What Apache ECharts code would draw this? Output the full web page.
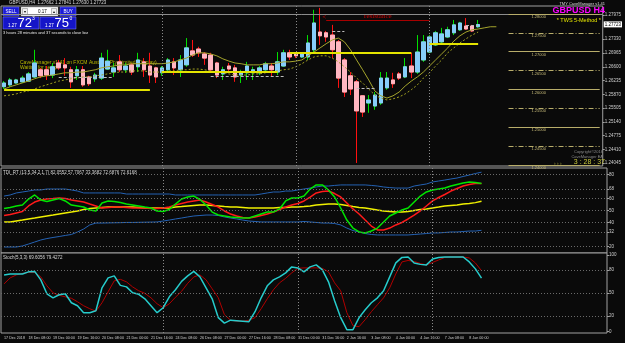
<!DOCTYPE html>
<html>
<head>
<meta charset="utf-8">
<script src="https://cdn.jsdelivr.net/npm/echarts@6/dist/echarts.min.js"></script>
<style>
  html, body { margin: 0; padding: 0; background: #0a0a0a; }
  #chart { width: 625px; height: 343px; }
</style>
</head>
<body>
<div id="chart"></div>
<script>
// time labels, one every 4 H4 bars
const tickLabels = ['17 Dec 2018', '18 Dec 08:00', '19 Dec 00:00', '19 Dec 16:00', '20 Dec 08:00',
  '21 Dec 00:00', '21 Dec 16:00', '24 Dec 08:00', '26 Dec 08:00', '27 Dec 00:00', '27 Dec 16:00',
  '28 Dec 08:00', '31 Dec 00:00', '31 Dec 16:00', '2 Jan 16:00', '3 Jan 08:00', '4 Jan 00:00',
  '4 Jan 16:00', '7 Jan 08:00', '8 Jan 00:00'];

// GBPUSD H4 candles
const open = [1.2607, 1.2612, 1.2617, 1.2620, 1.2622, 1.2633, 1.2652, 1.2652, 1.2638, 1.2670,
  1.2665, 1.2652, 1.2636, 1.2652, 1.2633, 1.2628, 1.2630, 1.2654, 1.2646, 1.2673,
  1.2652, 1.2665, 1.2660, 1.2673, 1.2662, 1.2657, 1.2644, 1.2652, 1.2673, 1.2652,
  1.2665, 1.2702, 1.2707, 1.2694, 1.2691, 1.2670, 1.2641, 1.2662, 1.2657, 1.2638,
  1.2644, 1.2644, 1.2644, 1.2652, 1.2662, 1.2646, 1.2662, 1.2697, 1.2697, 1.2686,
  1.2686, 1.2705, 1.2752, 1.2750, 1.2744, 1.2726, 1.2678, 1.2636, 1.2620, 1.2583,
  1.2564, 1.2556, 1.2564, 1.2604, 1.2625, 1.2641, 1.2633, 1.2662, 1.2646, 1.2678,
  1.2699, 1.2718, 1.2726, 1.2739, 1.2750, 1.2758, 1.2768, 1.2768, 1.2766];
const close = [1.2617, 1.2625, 1.2625, 1.2630, 1.2641, 1.2670, 1.2636, 1.2638, 1.2660, 1.2657,
  1.2657, 1.2620, 1.2652, 1.2612, 1.2615, 1.2638, 1.2683, 1.2675, 1.2657, 1.2652,
  1.2662, 1.2646, 1.2678, 1.2652, 1.2638, 1.2633, 1.2657, 1.2678, 1.2657, 1.2678,
  1.2710, 1.2691, 1.2697, 1.2683, 1.2652, 1.2638, 1.2652, 1.2654, 1.2633, 1.2644,
  1.2662, 1.2652, 1.2657, 1.2668, 1.2652, 1.2673, 1.2697, 1.2686, 1.2689, 1.2694,
  1.2723, 1.2776, 1.2742, 1.2739, 1.2705, 1.2630, 1.2593, 1.2601, 1.2543, 1.2540,
  1.2572, 1.2585, 1.2630, 1.2630, 1.2615, 1.2630, 1.2660, 1.2646, 1.2699, 1.2726,
  1.2739, 1.2750, 1.2747, 1.2758, 1.2771, 1.2776, 1.2760, 1.2755, 1.2772];
const low = [1.2601, 1.2607, 1.2615, 1.2617, 1.2620, 1.2630, 1.2630, 1.2625, 1.2630, 1.2652,
  1.2636, 1.2604, 1.2625, 1.2607, 1.2609, 1.2620, 1.2625, 1.2652, 1.2633, 1.2646,
  1.2644, 1.2638, 1.2646, 1.2633, 1.2617, 1.2617, 1.2636, 1.2646, 1.2638, 1.2633,
  1.2660, 1.2686, 1.2686, 1.2665, 1.2646, 1.2630, 1.2625, 1.2644, 1.2620, 1.2617,
  1.2625, 1.2625, 1.2638, 1.2644, 1.2633, 1.2638, 1.2660, 1.2678, 1.2683, 1.2683,
  1.2678, 1.2699, 1.2718, 1.2726, 1.2683, 1.2604, 1.2580, 1.2585, 1.2405, 1.2527,
  1.2538, 1.2546, 1.2559, 1.2599, 1.2604, 1.2625, 1.2630, 1.2630, 1.2641, 1.2673,
  1.2697, 1.2715, 1.2721, 1.2736, 1.2744, 1.2755, 1.2758, 1.2752, 1.2763];
const high = [1.2622, 1.2630, 1.2628, 1.2636, 1.2646, 1.2705, 1.2657, 1.2662, 1.2670, 1.2678,
  1.2683, 1.2660, 1.2662, 1.2662, 1.2636, 1.2644, 1.2697, 1.2705, 1.2670, 1.2691,
  1.2670, 1.2670, 1.2697, 1.2683, 1.2697, 1.2660, 1.2662, 1.2683, 1.2683, 1.2691,
  1.2736, 1.2731, 1.2713, 1.2699, 1.2697, 1.2673, 1.2660, 1.2670, 1.2665, 1.2652,
  1.2673, 1.2660, 1.2662, 1.2673, 1.2670, 1.2699, 1.2705, 1.2705, 1.2699, 1.2697,
  1.2744, 1.2811, 1.2816, 1.2755, 1.2771, 1.2731, 1.2683, 1.2646, 1.2625, 1.2585,
  1.2585, 1.2593, 1.2646, 1.2646, 1.2644, 1.2646, 1.2683, 1.2697, 1.2744, 1.2744,
  1.2744, 1.2755, 1.2763, 1.2766, 1.2784, 1.2779, 1.2789, 1.2771, 1.2784];

// moving averages drawn on the price chart (fast one is shifted forward)
const fastMA = [1.2601, 1.2607, 1.2612, 1.2617, 1.2622, 1.2628, 1.2633, 1.2636, 1.2638, 1.2641,
  1.2644, 1.2644, 1.2646, 1.2646, 1.2649, 1.2652, 1.2657, 1.2660, 1.2662, 1.2665,
  1.2665, 1.2668, 1.2668, 1.2668, 1.2668, 1.2668, 1.2668, 1.2670, 1.2673, 1.2678,
  1.2683, 1.2691, 1.2697, 1.2697, 1.2694, 1.2689, 1.2681, 1.2675, 1.2670, 1.2668,
  1.2665, 1.2665, 1.2665, 1.2668, 1.2668, 1.2670, 1.2673, 1.2673, 1.2675, 1.2678,
  1.2689, 1.2699, 1.2710, 1.2721, 1.2731, 1.2736, 1.2726, 1.2705, 1.2678, 1.2652,
  1.2625, 1.2596, 1.2583, 1.2577, 1.2583, 1.2593, 1.2609, 1.2622, 1.2633, 1.2646,
  1.2662, 1.2678, 1.2694, 1.2710, 1.2728, 1.2742, 1.2752, 1.2758, 1.2760, 1.2763,
  1.2766, 1.2766];
const slowMA = [1.2583, 1.2585, 1.2588, 1.2593, 1.2596, 1.2601, 1.2607, 1.2612, 1.2617, 1.2622,
  1.2625, 1.2628, 1.2630, 1.2633, 1.2633, 1.2636, 1.2638, 1.2641, 1.2644, 1.2646,
  1.2646, 1.2649, 1.2649, 1.2649, 1.2646, 1.2646, 1.2646, 1.2649, 1.2649, 1.2652,
  1.2652, 1.2654, 1.2654, 1.2652, 1.2649, 1.2646, 1.2644, 1.2641, 1.2638, 1.2638,
  1.2638, 1.2641, 1.2641, 1.2644, 1.2646, 1.2649, 1.2652, 1.2654, 1.2660, 1.2668,
  1.2678, 1.2686, 1.2689, 1.2689, 1.2683, 1.2673, 1.2660, 1.2646, 1.2630, 1.2617,
  1.2601, 1.2585, 1.2577, 1.2572, 1.2575, 1.2580, 1.2588, 1.2599, 1.2612, 1.2630,
  1.2644, 1.2662, 1.2678, 1.2697, 1.2710, 1.2723, 1.2734, 1.2744, 1.2752];

// TDI
const tdiUpper = [62.1, 63.0, 64.7, 65.5, 66.3, 67.2, 67.2, 68.0, 68.0, 68.0,
  68.0, 67.2, 66.3, 64.7, 64.7, 64.7, 64.7, 64.7, 64.7, 64.7,
  63.8, 63.8, 63.8, 63.8, 63.8, 63.8, 63.8, 63.8, 63.0, 63.0,
  63.0, 63.0, 63.0, 63.0, 63.0, 63.0, 63.0, 63.0, 63.0, 63.0,
  63.0, 63.0, 63.8, 64.7, 65.5, 65.5, 66.3, 66.3, 67.2, 68.0,
  68.8, 69.7, 70.5, 70.5, 71.0, 71.4, 71.4, 71.4, 71.4, 71.4,
  71.0, 70.5, 69.7, 69.2, 68.8, 68.8, 68.8, 70.5, 71.4, 72.2,
  73.9, 74.7, 75.5, 76.4, 77.2, 78.5, 79.7, 81.0, 82.1];
const tdiLower = [19.4, 19.4, 19.4, 20.3, 21.9, 23.6, 25.3, 26.5, 27.4, 28.2,
  29.1, 29.9, 32.0, 34.5, 37.9, 39.5, 39.5, 39.6, 39.7, 39.8,
  40.0, 40.0, 40.1, 40.2, 40.3, 40.4, 41.2, 42.0, 42.9, 43.7,
  44.6, 45.4, 45.8, 46.2, 46.2, 45.8, 44.6, 43.7, 42.9, 42.0,
  41.2, 40.8, 40.4, 40.4, 40.4, 40.4, 40.4, 40.4, 40.4, 40.8,
  40.4, 40.0, 39.5, 39.5, 39.1, 37.9, 35.3, 33.2, 32.0, 30.7,
  29.9, 29.5, 29.5, 29.5, 29.5, 29.5, 29.5, 29.9, 30.3, 30.7,
  31.2, 31.2, 31.6, 32.0, 32.0, 32.4, 32.8, 32.8, 33.4];
const tdiMid = [40.4, 40.4, 41.2, 42.0, 42.9, 43.7, 44.6, 45.4, 46.2, 47.1,
  47.9, 48.7, 49.6, 50.8, 51.7, 52.1, 52.5, 52.9, 52.9, 52.9,
  52.9, 52.9, 52.5, 52.1, 52.1, 52.1, 52.1, 52.1, 52.9, 53.3,
  53.8, 54.2, 54.6, 54.6, 54.2, 53.8, 53.3, 52.9, 52.9, 52.5,
  52.1, 52.1, 52.1, 52.1, 52.1, 52.5, 52.5, 52.9, 52.9, 53.3,
  53.8, 54.6, 55.0, 55.4, 55.4, 55.0, 54.2, 53.3, 52.5, 52.1,
  51.3, 50.4, 49.6, 49.2, 48.7, 48.7, 49.2, 50.0, 50.8, 51.3,
  52.1, 52.9, 53.8, 54.2, 54.6, 55.4, 55.9, 56.6, 57.7];
const tdiGreen = [51.7, 52.5, 53.8, 54.6, 59.6, 63.0, 58.8, 57.5, 58.8, 60.0,
  58.0, 54.6, 53.8, 52.9, 50.4, 49.6, 56.3, 58.0, 57.5, 56.7,
  55.4, 54.6, 53.8, 52.9, 52.1, 49.6, 49.2, 50.8, 55.4, 59.6,
  61.3, 62.1, 59.2, 54.6, 48.7, 46.2, 45.4, 44.6, 44.2, 43.7,
  43.7, 45.4, 47.1, 48.7, 48.7, 51.3, 58.0, 60.5, 60.5, 62.1,
  68.0, 71.4, 71.4, 67.2, 61.3, 52.1, 42.0, 35.3, 32.0, 31.2,
  32.8, 35.3, 40.4, 45.4, 47.9, 50.4, 52.1, 57.1, 62.1, 65.5,
  67.2, 68.0, 68.8, 70.5, 71.8, 73.0, 73.9, 73.5, 72.7];
const tdiRed = [45.8, 46.6, 47.9, 49.2, 53.8, 57.1, 58.8, 59.6, 60.0, 60.5,
  60.0, 58.8, 58.0, 57.1, 55.4, 53.8, 52.1, 52.5, 52.9, 52.9,
  52.5, 52.1, 52.1, 52.1, 51.7, 51.7, 52.1, 52.9, 54.6, 55.9,
  57.1, 58.0, 58.8, 57.1, 55.0, 52.9, 49.6, 47.1, 45.4, 44.2,
  43.7, 44.6, 45.8, 47.1, 48.7, 50.8, 52.9, 54.6, 55.9, 58.0,
  61.3, 64.7, 65.9, 66.3, 64.2, 61.3, 56.3, 51.3, 47.1, 42.0,
  37.0, 33.7, 33.7, 35.3, 37.9, 40.0, 42.9, 46.2, 49.6, 53.8,
  58.0, 60.9, 63.4, 66.3, 68.4, 70.5, 71.8, 72.6, 72.6];
// stretches where the TDI middle line is drawn in its darker colour
const midFalling = [[31, 39], [56, 65]];

// Stochastic
const stochK = [73.9, 75.2, 75.2, 75.2, 77.9, 78.5, 67.4, 49.2, 43.9, 47.9,
  49.2, 37.4, 33.5, 24.4, 24.4, 27.0, 57.0, 70.0, 72.6, 60.2,
  58.2, 50.5, 48.5, 42.6, 33.5, 24.4, 30.9, 45.2, 54.4, 65.5,
  72.6, 78.5, 71.3, 57.0, 42.6, 17.9, 10.7, 14.6, 14.0, 13.3,
  12.6, 25.7, 43.9, 59.6, 67.4, 71.3, 76.6, 84.4, 83.1, 77.9,
  84.4, 87.0, 80.5, 64.8, 40.0, 17.9, 2.2, 2.2, 17.9, 28.3,
  37.4, 43.9, 53.1, 71.3, 89.6, 96.8, 97.4, 89.6, 87.7, 87.0,
  94.8, 96.8, 97.4, 97.4, 97.4, 97.4, 90.9, 81.8, 69.6];
const stochD = [62.2, 70.0, 73.9, 75.9, 77.2, 77.2, 71.3, 59.6, 50.5, 47.2,
  45.2, 43.3, 38.7, 33.5, 29.6, 26.3, 37.4, 51.8, 66.1, 68.1,
  64.8, 58.2, 53.1, 49.8, 43.9, 36.1, 30.9, 36.1, 44.6, 52.4,
  62.9, 71.3, 73.9, 67.4, 55.7, 43.9, 21.8, 14.6, 13.3, 13.3,
  14.6, 17.9, 29.6, 42.6, 54.4, 63.5, 69.4, 76.6, 82.5, 83.1,
  83.1, 83.1, 82.5, 77.9, 63.5, 53.1, 24.4, 7.4, 6.1, 15.3,
  25.7, 34.8, 43.9, 57.0, 75.2, 90.9, 92.8, 91.5, 88.9, 87.0,
  90.2, 93.5, 96.8, 97.4, 97.4, 97.4, 96.1, 89.6, 79.4];

// axis ticks
const priceTicks = [1.27975, 1.27330, 1.26965, 1.26600, 1.26235, 1.25870, 1.25505, 1.25140, 1.24775, 1.24410, 1.24045];
const tdiTicks = [20, 32, 40, 50, 60, 68, 80];
const stochTicks = [0, 20, 50, 80, 100];

// levels on the price chart
const bid = 1.27723;
const weekOpen = [[0, 24, 1.2599], [26, 45, 1.2646], [47, 67, 1.2697], [70, 78, 1.2721]];
const roundLevels = [1.28, 1.275, 1.27, 1.265, 1.26, 1.255, 1.25, 1.245, 1.24];
const pivots = [[9, 18, 1.2633], [34, 46, 1.2636], [54, 56, 1.2755], [58, 61, 1.2604], [76, 78, 1.2771]];
const resistance = [53, 70, 1.2784];
const weekBreaks = [26, 48, 70];

const chart = echarts.init(document.getElementById('chart'));

const slots = 99;
const categories = [];
for (let i = 0; i < slots; i++) {
  categories.push(i % 4 === 0 && i / 4 < tickLabels.length ? tickLabels[i / 4] : '');
}
const candleData = open.map((o, i) => [o, close[i], low[i], high[i]]);
const bodyData = open.map((o, i) => [o, close[i], Math.min(o, close[i]), Math.max(o, close[i])]);

const font = 'Liberation Sans';
const axisText = { color: '#cfcfcf', fontSize: 4.5, fontFamily: font };
const gridStyle = { left: 1, right: 18, show: true, borderColor: '#a0a0a0', borderWidth: 1, backgroundColor: '#0a0a0a' };
const sepLine = { color: '#8a8a8a', type: [1, 2], width: 1 };

const breakLines = weekBreaks.map((b) => ({ xAxis: b, lineStyle: sepLine, label: { show: false } }));

const priceMarks = [
  { yAxis: bid, lineStyle: { color: '#8c8c8c', type: 'solid', width: 1 }, label: { show: false } },
  ...breakLines,
  ...weekOpen.map(([a, b, p]) => [
    { coord: [a, p], lineStyle: { color: '#e4e400', width: 2, type: 'solid' }, label: { show: false } },
    { coord: [b, p] }
  ]),
  ...roundLevels.map((p, k) => [
    { coord: [83, p], lineStyle: { color: '#b8ad6a', width: 1, type: k % 2 === 0 ? 'solid' : [5, 2, 1, 2] },
      label: { show: true, position: 'insideStartBottom', formatter: p.toFixed(5), color: '#c8bc7a',
        fontSize: 4, fontFamily: font, padding: [0, 0, 0, 22], distance: 1 } },
    { coord: [98, p] }
  ]),
  ...pivots.map(([a, b, p]) => [
    { coord: [a, p], lineStyle: { color: '#bdbdbd', width: 1, type: [3, 2] }, label: { show: false } },
    { coord: [b, p] }
  ]),
  [
    { coord: [resistance[0], resistance[2]], lineStyle: { color: '#a80000', width: 1, type: 'solid' },
      label: { show: true, position: 'insideMiddleTop', formatter: 'resistance', color: '#d00000',
        fontSize: 7, fontFamily: 'Liberation Serif', distance: 0 } },
    { coord: [resistance[1], resistance[2]] }
  ]
];

const levelLines = (vals) => vals.map((v) => ({ yAxis: v, lineStyle: { color: '#6a6a6a', type: [1, 2], width: 1 }, label: { show: false } }));

const lineSeries = (name, data, xi, color, width, type, extra) => Object.assign({
  name, type: 'line', data, xAxisIndex: xi, yAxisIndex: xi, showSymbol: false, symbol: 'none',
  lineStyle: { color, width, type: type || 'solid' }, silent: true
}, extra || {});

const midPieces = [];
let from = 0;
midFalling.forEach(([a, b]) => {
  midPieces.push({ gte: from, lt: a, color: '#f0f000' });
  midPieces.push({ gte: a, lte: b, color: '#8f8f00' });
  from = b + 0.001;
});
midPieces.push({ gte: from, color: '#f0f000' });

const option = {
  backgroundColor: '#0a0a0a',
  animation: false,
  title: [
    { text: 'GBPUSD,H4  1.27662 1.27841 1.27630 1.27723', left: 9, top: 0, padding: 0,
      textStyle: { color: '#d8d8d8', fontSize: 4.5, fontWeight: 'normal', fontFamily: font } },
    { text: 'TDI_RT (13,5,34,2,1,7) 82.0552 57.7067 33.3682 72.6876 72.6168', left: 3, top: 170, padding: 0,
      textStyle: { color: '#d8d8d8', fontSize: 4.5, fontWeight: 'normal', fontFamily: font } },
    { text: 'Stoch(5,3,3) 69.6056 79.4272', left: 3, top: 255, padding: 0,
      textStyle: { color: '#d8d8d8', fontSize: 4.5, fontWeight: 'normal', fontFamily: font } }
  ],
  visualMap: {
    show: false, type: 'piecewise', seriesIndex: 6, dimension: 0, pieces: midPieces
  },
  grid: [
    Object.assign({ top: 6, height: 160 }, gridStyle),
    Object.assign({ top: 168, height: 85 }, gridStyle),
    Object.assign({ top: 253, height: 80 }, gridStyle)
  ],
  xAxis: [0, 1, 2].map((g) => ({
    type: 'category', gridIndex: g, data: categories, boundaryGap: true,
    axisLine: { show: false }, axisTick: { show: false }, splitLine: { show: false },
    axisLabel: g === 2
      ? Object.assign({ interval: 0, align: 'left', margin: 3 }, axisText, { fontSize: 3.7 })
      : { show: false }
  })),
  yAxis: [
    { type: 'value', gridIndex: 0, position: 'right', min: 1.2397, max: 1.2821,
      axisLine: { show: false }, splitLine: { show: false },
      axisTick: { show: true, length: 2, customValues: priceTicks, lineStyle: { color: '#a0a0a0' } },
      axisLabel: Object.assign({ customValues: priceTicks, margin: 2, formatter: (v) => v.toFixed(5) }, axisText) },
    { type: 'value', gridIndex: 1, position: 'right', min: 14.4, max: 85.6,
      axisLine: { show: false }, splitLine: { show: false },
      axisTick: { show: true, length: 2, customValues: tdiTicks, lineStyle: { color: '#a0a0a0' } },
      axisLabel: Object.assign({ customValues: tdiTicks, margin: 2 }, axisText) },
    { type: 'value', gridIndex: 2, position: 'right', min: -2.2, max: 102.6,
      axisLine: { show: false }, splitLine: { show: false },
      axisTick: { show: true, length: 2, customValues: stochTicks, lineStyle: { color: '#a0a0a0' } },
      axisLabel: Object.assign({ customValues: stochTicks, margin: 2 }, axisText) },
    // current bid box on the price scale
    { type: 'value', gridIndex: 0, position: 'right', min: 1.2397, max: 1.2821,
      axisLine: { show: false }, splitLine: { show: false }, axisTick: { show: false },
      axisLabel: Object.assign({}, axisText, { customValues: [bid], margin: 1, color: '#000', backgroundColor: '#ffffff',
        padding: [1, 1, 0, 1], formatter: (v) => v.toFixed(5) }) }
  ],
  series: [
    {
      name: 'wicks', type: 'candlestick', xAxisIndex: 0, yAxisIndex: 0, data: candleData, barWidth: 4, silent: true,
      itemStyle: { color: '#00e000', color0: '#ff1010', borderColor: '#00e000', borderColor0: '#ff1010', borderWidth: 1 },
      markLine: { symbol: 'none', silent: true, animation: false, data: priceMarks },
      markPoint: { symbol: 'circle', symbolSize: 0, silent: true,
        data: [{ coord: [resistance[0], resistance[2]],
          label: { show: true, formatter: '<', color: '#d00000', fontSize: 7, fontFamily: 'Liberation Serif', offset: [-2, -3] } }] }
    },
    {
      name: 'bodies', type: 'candlestick', xAxisIndex: 0, yAxisIndex: 0, data: bodyData, barWidth: 4, silent: true,
      itemStyle: { color: '#87cefa', color0: '#ffb6c1', borderColor: '#87cefa', borderColor0: '#ffb6c1', borderWidth: 1 }
    },
    lineSeries('fastMA', fastMA, 0, '#a5a52c', 1),
    lineSeries('slowMA', slowMA, 0, '#a0a020', 1, [2, 2]),
    lineSeries('tdiUpper', tdiUpper, 1, '#2462b4', 1, 'solid', {
      markLine: { symbol: 'none', silent: true, data: [...levelLines([20, 32, 40, 50, 60, 68, 80]), ...breakLines] }
    }),
    lineSeries('tdiLower', tdiLower, 1, '#2462b4', 1),
    lineSeries('tdiMid', tdiMid, 1, '#f0f000', 1.5),
    lineSeries('tdiRed', tdiRed, 1, '#ff1a1a', 1.5),
    lineSeries('tdiGreen', tdiGreen, 1, '#00e600', 1.5),
    lineSeries('stochD', stochD, 2, '#b00000', 1, 'solid', {
      markLine: { symbol: 'none', silent: true, data: [...levelLines([20, 50, 80]), ...breakLines] }
    }),
    lineSeries('stochK', stochK, 2, '#26cccc', 1.5)
  ],
  graphic: [
    // one-click trading panel
    { type: 'rect', shape: { x: 3, y: 7, width: 16, height: 9 }, style: { fill: '#1b1bd8', stroke: '#8080ff', lineWidth: 0.5 } },
    { type: 'text', x: 5.5, y: 9.5, style: { text: 'SELL', fill: '#fff', font: '4.5px Liberation Sans', verticalAlign: 'top' } },
    { type: 'rect', shape: { x: 21, y: 7, width: 37, height: 9 }, style: { fill: '#ffffff', stroke: '#9a9a9a', lineWidth: 0.5 } },
    { type: 'rect', shape: { x: 22.5, y: 8.5, width: 5, height: 6 }, style: { fill: '#f0f0f0', stroke: '#777', lineWidth: 0.5 } },
    { type: 'rect', shape: { x: 51.5, y: 8.5, width: 5, height: 6 }, style: { fill: '#f0f0f0', stroke: '#777', lineWidth: 0.5 } },
    { type: 'text', x: 24, y: 9.5, style: { text: '\u25be', fill: '#000', font: '4px Liberation Sans', verticalAlign: 'top' } },
    { type: 'text', x: 53, y: 9.5, style: { text: '\u25b4', fill: '#000', font: '4px Liberation Sans', verticalAlign: 'top' } },
    { type: 'text', x: 38, y: 9.5, style: { text: '0.17', fill: '#000', font: '4.5px Liberation Sans', verticalAlign: 'top' } },
    { type: 'rect', shape: { x: 60, y: 7, width: 16, height: 9 }, style: { fill: '#1b1bd8', stroke: '#8080ff', lineWidth: 0.5 } },
    { type: 'text', x: 63.5, y: 9.5, style: { text: 'BUY', fill: '#fff', font: '4.5px Liberation Sans', verticalAlign: 'top' } },
    { type: 'rect', shape: { x: 3, y: 17, width: 36, height: 12 }, style: { fill: '#1515c8', stroke: '#8080ff', lineWidth: 0.5 } },
    { type: 'rect', shape: { x: 40, y: 17, width: 36, height: 12 }, style: { fill: '#1515c8', stroke: '#8080ff', lineWidth: 0.5 } },
    { type: 'text', x: 8, y: 23, style: { text: '1.27', fill: '#fff', font: '4.5px Liberation Sans', verticalAlign: 'top' } },
    { type: 'text', x: 17.5, y: 16.5, style: { text: '72', fill: '#fff', font: '13px Liberation Sans', verticalAlign: 'top' } },
    { type: 'text', x: 32, y: 16.5, style: { text: '3', fill: '#fff', font: '5px Liberation Sans', verticalAlign: 'top' } },
    { type: 'text', x: 45, y: 23, style: { text: '1.27', fill: '#fff', font: '4.5px Liberation Sans', verticalAlign: 'top' } },
    { type: 'text', x: 54.5, y: 16.5, style: { text: '75', fill: '#fff', font: '13px Liberation Sans', verticalAlign: 'top' } },
    { type: 'text', x: 69.5, y: 16.5, style: { text: '0', fill: '#fff', font: '5px Liberation Sans', verticalAlign: 'top' } },
    { type: 'text', x: 3, y: 30.5, style: { text: '3 hours 28 minutes and 37 seconds to close bar', fill: '#e8e8e8', font: '4px Liberation Sans', verticalAlign: 'top' } },
    // expert advisor comment
    { type: 'text', x: 20, y: 60, style: { text: 'CaveManager v1.41 on FXCM Australia Pty. Limited (Display)', fill: '#b8b800', font: '5px Liberation Sans', verticalAlign: 'top' } },
    { type: 'text', x: 20, y: 65.5, style: { text: 'Waiting for setup', fill: '#b8b800', font: '5px Liberation Sans', verticalAlign: 'top' } },
    // top right labels
    { type: 'text', x: 605, y: 2, style: { text: 'TMY CaveManager v1.41', fill: '#dcdcdc', font: '4px Liberation Sans', align: 'right', verticalAlign: 'top' } },
    { type: 'text', x: 605, y: 6.5, style: { text: 'GBPUSD H4', fill: '#ff00ff', font: 'bold 9px Liberation Sans', align: 'right', verticalAlign: 'top' } },
    { type: 'text', x: 601, y: 17, style: { text: '* TWS 5-Method *', fill: '#e8e800', font: '5.5px Liberation Sans', align: 'right', verticalAlign: 'top' } },
    // bottom right
    { type: 'text', x: 603, y: 150, style: { text: 'Copyright\u00a92016', fill: '#8a8a8a', font: '4px Liberation Sans', align: 'right', verticalAlign: 'top' } },
    { type: 'text', x: 603, y: 154.5, style: { text: 'CaveManager EA', fill: '#8a8a8a', font: '4px Liberation Sans', align: 'right', verticalAlign: 'top' } },
    { type: 'text', x: 605, y: 158.5, style: { text: '3 : 28 : 37', fill: '#c8c83c', font: '7px Liberation Sans', align: 'right', verticalAlign: 'top' } },
    { type: 'text', x: 554, y: 161, style: { text: '\u203a \u203a \u203a', fill: '#9a9a3a', font: '5px Liberation Sans', verticalAlign: 'top' } }
  ]
};

chart.setOption(option);
</script>
</body>
</html>
